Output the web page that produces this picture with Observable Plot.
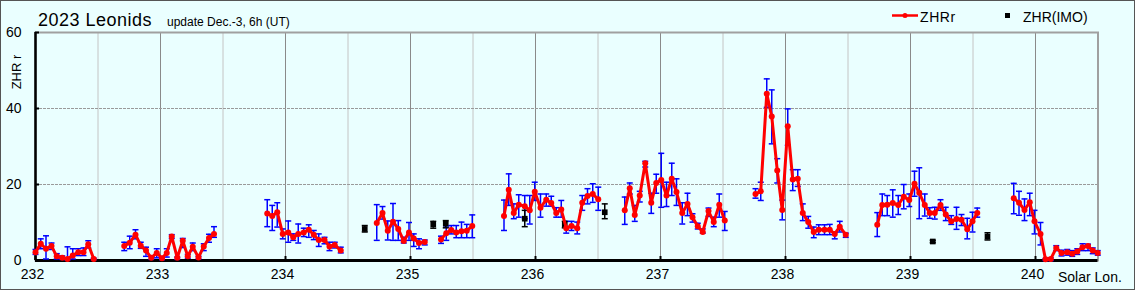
<!DOCTYPE html>
<html>
<head>
<meta charset="utf-8">
<script src="https://cdn.jsdelivr.net/npm/d3@7"></script>
<script src="https://cdn.jsdelivr.net/npm/@observablehq/plot@0.6"></script>
<style>
  html, body { margin: 0; padding: 0; background: #eaffff; }
  #wrap { position: relative; width: 1135px; height: 290px; overflow: hidden; background: #eaffff; }
  #chart { position: absolute; left: 0; top: 0; }
  #overlay { position: absolute; left: 0; top: 0; pointer-events: none; }
  #border { position: absolute; left: 0; top: 0; width: 1135px; height: 290px; box-sizing: border-box; border: 1px solid #555; pointer-events: none; }
  text { font-family: "Liberation Sans", Arial, sans-serif; }
</style>
</head>
<body>
<div id="wrap">
  <div id="chart"></div>
  <svg id="overlay" width="1135" height="290"></svg>
  <div id="border"></div>
</div>
<script>
// ---- Data: ZHRr (hourly), solar longitude, value, error low, error high ----
const zhrLon = [
  232.000, 232.042, 232.084, 232.128, 232.170, 232.214, 232.256, 232.298, 232.342, 232.384, 232.422, 232.466,
  232.710, 232.754, 232.800, 232.842, 232.884, 232.926, 232.970, 233.012, 233.050, 233.090, 233.134, 233.178, 233.218, 233.258, 233.304, 233.346, 233.388, 233.428,
  233.854, 233.894, 233.934, 233.978, 234.022, 234.062, 234.102, 234.146, 234.186, 234.226, 234.266, 234.312, 234.352, 234.394, 234.442,
  234.730, 234.776, 234.818, 234.860, 234.902, 234.946, 234.988, 235.026, 235.068, 235.114,
  235.244, 235.286, 235.326, 235.366, 235.408, 235.450, 235.494,
  235.748, 235.786, 235.826, 235.866, 235.914, 235.954, 235.994, 236.040, 236.086, 236.126, 236.166, 236.206, 236.246, 236.288, 236.334, 236.374, 236.416, 236.458, 236.502,
  236.714, 236.754, 236.794, 236.834, 236.878, 236.926, 236.966, 237.006, 237.048, 237.090, 237.128, 237.174, 237.216, 237.256, 237.298, 237.338, 237.384, 237.426, 237.470, 237.514,
  237.760, 237.802, 237.850, 237.890, 237.934, 237.974, 238.018, 238.058, 238.098, 238.138, 238.182, 238.226, 238.266, 238.312, 238.354, 238.394, 238.434, 238.482,
  238.734, 238.774, 238.814, 238.858, 238.902, 238.946, 238.990, 239.032, 239.070, 239.114, 239.154, 239.194, 239.240, 239.282, 239.326, 239.368, 239.408, 239.454, 239.496, 239.534,
  239.826, 239.868, 239.912, 239.954, 239.992, 240.040, 240.080, 240.122, 240.166, 240.208, 240.254, 240.294, 240.334, 240.376, 240.420, 240.458, 240.498
];
const zhrVal = [
  2.2, 4.4, 3.1, 3.8, 1.1, 0.7, 0.4, 1.3, 2.2, 2.2, 4.3, 0.4,
  3.8, 4.7, 6.8, 3.9, 2.6, 0.7, 2.0, 0.6, 2.0, 6.3, 0.7, 5.2, 1.1, 3.6, 0.8, 3.7, 5.9, 7.0,
  12.4, 11.7, 12.7, 7.0, 7.4, 6.1, 7.0, 7.4, 8.1, 6.8, 5.4, 5.4, 3.7, 4.1, 2.6,
  9.9, 12.5, 7.8, 10.2, 8.3, 5.1, 7.4, 5.8, 4.6, 4.9,
  5.5, 7.2, 8.0, 7.4, 7.7, 7.8, 9.1,
  11.7, 18.6, 12.5, 14.7, 14.3, 13.2, 18.1, 13.9, 16.0, 15.1, 12.5, 13.4, 8.5, 9.1, 8.5, 15.2, 17.0, 17.5, 16.1,
  13.2, 19.0, 12.0, 17.1, 25.6, 15.2, 20.4, 21.2, 17.1, 21.5, 18.0, 12.5, 14.9, 11.4, 9.0, 7.5, 13.0, 10.1, 14.7, 10.5,
  17.5, 18.2, 43.9, 37.9, 23.7, 13.3, 35.3, 21.3, 21.5, 12.5, 10.1, 7.5, 8.1, 8.1, 8.1, 7.0, 8.9, 6.8,
  9.4, 14.6, 14.7, 15.1, 14.6, 16.8, 15.9, 20.2, 17.8, 14.6, 12.5, 12.5, 14.6, 12.1, 10.3, 10.9, 10.7, 8.2, 10.3, 12.5,
  16.4, 15.2, 13.3, 15.3, 10.3, 7.0, 0.3, 0.4, 3.3, 2.0, 2.2, 1.8, 2.4, 3.5, 3.8, 2.6, 2.0
];
const zhrLo = [
  1.6, 3.1, 0.4, 2.9, 0.4, 0.3, 0.1, 0.4, 1.3, 1.3, 3.3, 0.2,
  2.6, 3.1, 5.7, 3.2, 1.1, 0.3, 0.7, 0.2, 0.9, 5.8, 0.3, 3.4, 0.6, 2.6, 0.4, 2.6, 4.8, 6.1,
  8.9, 7.9, 8.8, 5.7, 4.8, 5.3, 4.6, 6.3, 6.1, 5.5, 3.7, 4.4, 2.6, 3.3, 2.0,
  5.3, 10.9, 5.4, 5.3, 5.3, 4.6, 5.3, 3.7, 3.1, 4.1,
  4.5, 5.3, 7.0, 6.0, 6.0, 6.0, 6.0,
  7.9, 14.5, 11.0, 11.4, 11.0, 9.6, 15.8, 11.4, 14.3, 14.3, 11.4, 11.4, 7.2, 7.9, 7.0, 13.2, 14.9, 15.3, 13.2,
  9.5, 17.5, 10.3, 15.4, 24.6, 12.4, 17.7, 14.0, 14.2, 17.1, 14.5, 9.6, 11.8, 10.1, 8.3, 7.2, 11.6, 8.9, 11.4, 7.9,
  16.4, 15.8, 40.3, 30.7, 20.4, 10.7, 30.3, 18.4, 19.5, 10.5, 8.5, 6.0, 6.8, 6.8, 6.8, 5.7, 7.5, 6.1,
  6.3, 11.8, 11.8, 11.4, 12.1, 13.6, 14.2, 16.9, 11.0, 11.7, 11.1, 10.9, 13.2, 10.5, 9.5, 8.2, 9.2, 5.7, 7.5, 11.4,
  12.3, 11.9, 10.5, 11.8, 7.0, 4.1, 0.0, 0.0, 2.6, 1.2, 1.4, 1.1, 1.6, 2.6, 2.6, 1.8, 1.4
];
const zhrHi = [
  2.9, 5.7, 6.5, 4.6, 1.8, 1.2, 3.6, 3.1, 3.1, 3.3, 5.2, 0.6,
  4.8, 6.4, 8.1, 4.8, 3.5, 1.1, 3.1, 1.0, 3.1, 6.8, 0.9, 5.8, 1.6, 4.6, 1.1, 4.4, 6.9, 8.9,
  16.0, 14.5, 15.2, 8.3, 10.4, 7.0, 9.6, 8.5, 9.4, 7.9, 7.0, 6.1, 4.8, 4.8, 3.5,
  14.7, 14.2, 10.4, 15.0, 10.5, 6.1, 10.0, 7.0, 5.7, 5.4,
  6.4, 8.8, 9.2, 9.2, 10.1, 9.5, 12.0,
  15.9, 22.8, 14.9, 17.3, 17.1, 17.1, 20.6, 17.5, 17.5, 16.9, 13.9, 15.8, 10.3, 10.3, 10.1, 17.1, 18.9, 20.2, 19.3,
  16.7, 20.4, 14.5, 18.2, 26.1, 17.7, 22.7, 28.2, 20.6, 25.6, 21.5, 15.2, 17.7, 12.3, 9.8, 8.3, 13.8, 11.4, 17.5, 12.9,
  18.9, 20.6, 47.8, 44.9, 26.8, 15.9, 39.9, 23.9, 23.9, 14.9, 11.6, 8.8, 9.4, 9.4, 9.5, 7.4, 10.3, 7.2,
  12.6, 17.5, 17.1, 18.6, 17.1, 20.0, 17.5, 23.5, 24.4, 17.5, 13.9, 14.0, 16.0, 14.0, 11.8, 14.0, 12.1, 11.1, 12.7, 13.8,
  20.3, 18.2, 16.2, 17.7, 13.2, 10.0, 0.5, 0.7, 3.9, 2.7, 2.9, 2.6, 3.1, 4.4, 4.3, 3.3, 2.6
];

// ---- Data: ZHR (IMO) ----
const imoLon = [234.634, 235.182, 235.282, 235.914, 236.234, 236.554, 239.178, 239.616];
const imoVal = [8.3, 9.5, 9.7, 11.0, 9.5, 12.7, 5.0, 6.3];
const imoLo  = [7.5, 8.5, 8.6, 8.9, 8.6, 11.0, 4.7, 5.4];
const imoHi  = [9.2, 10.3, 10.5, 13.2, 10.3, 14.9, 5.3, 7.3];

// ---- Axis ticks ----
const xTicks = [232, 233, 234, 235, 236, 237, 238, 239, 240];
const xHalfTicks = [232.5, 233.5, 234.5, 235.5, 236.5, 237.5, 238.5, 239.5];
const yTicks = [0, 20, 40, 60];
const yGrid = [20, 40];

// ---- Build tables ----
const rows = zhrLon.map((x, i) => ({x, v: zhrVal[i], lo: zhrLo[i], hi: zhrHi[i]}));
let seg = 0;
rows.forEach((d, i) => { if (i > 0 && d.x - rows[i - 1].x > 0.1) seg++; d.seg = seg; });
const imo = imoLon.map((x, i) => ({x, v: imoVal[i], lo: imoLo[i], hi: imoHi[i]}));

const W = 1135, H = 290;
const mL = 35, mR = 37.5, mT = 32, mB = 30;
const plotW = W - mL - mR, plotH = H - mT - mB;

// horizontal cap symbol for error bars (half-width = r)
const capSymbol = {
  draw(ctx, size) { const w = Math.sqrt(size / Math.PI); ctx.moveTo(-w, 0); ctx.lineTo(w, 0); }
};

const chart = Plot.plot({
  width: W, height: H,
  marginLeft: mL, marginRight: mR, marginTop: mT, marginBottom: mB,
  style: {background: "transparent", fontFamily: "'Liberation Sans', Arial, sans-serif", overflow: "visible"},
  x: {domain: [232, 240.5], label: null},
  y: {domain: [0, 60], label: null},
  marks: [
    Plot.ruleX(xHalfTicks, {stroke: "#c4c4c4", strokeWidth: 1}),
    Plot.ruleX(xTicks.slice(1), {stroke: "#8a8a8a", strokeWidth: 1}),
    Plot.ruleY(yGrid, {stroke: "#9a9a9a", strokeWidth: 1, strokeDasharray: "3,1"}),
    Plot.frame({stroke: "#a0a0a0", strokeWidth: 2}),
    Plot.ruleY([0], {stroke: "black", strokeWidth: 3}),
    Plot.ruleX([232], {stroke: "black", strokeWidth: 2.5}),
    Plot.tickX(xTicks, {x: d => d, stroke: "black", strokeWidth: 2, insetTop: plotH - 4}),
    Plot.tickY(yTicks, {y: d => d, stroke: "black", strokeWidth: 2, insetRight: plotW - 4}),
    Plot.axisX(xTicks, {tickSize: 0, tickPadding: 9, fontSize: 14, dx: -3, tickFormat: d3.format("d")}),
    Plot.axisY(yTicks, {tickSize: 0, tickPadding: 14, fontSize: 14, tickFormat: d3.format("d")}),
    // ZHRr error bars
    Plot.ruleX(rows, {x: "x", y1: "lo", y2: "hi", stroke: "#0000ff", strokeWidth: 1.5}),
    Plot.dot(rows, {x: "x", y: "hi", symbol: capSymbol, r: 3, stroke: "#0000ff", strokeWidth: 1.5, fill: "none"}),
    Plot.dot(rows, {x: "x", y: "lo", symbol: capSymbol, r: 3, stroke: "#0000ff", strokeWidth: 1.5, fill: "none"}),
    // IMO
    Plot.ruleX(imo, {x: "x", y1: "lo", y2: "hi", stroke: "black", strokeWidth: 1.5}),
    Plot.dot(imo, {x: "x", y: "hi", symbol: capSymbol, r: 3, stroke: "black", strokeWidth: 1.5, fill: "none"}),
    Plot.dot(imo, {x: "x", y: "lo", symbol: capSymbol, r: 3, stroke: "black", strokeWidth: 1.5, fill: "none"}),
    Plot.dot(imo, {x: "x", y: "v", symbol: "square", r: 3.2, fill: "black", stroke: "none"}),
    // ZHRr line + points
    Plot.line(rows, {x: "x", y: "v", z: "seg", stroke: "#ff0000", strokeWidth: 3, strokeLinejoin: "round"}),
    Plot.dot(rows, {x: "x", y: "v", r: 3, fill: "#ff0000", stroke: "none"})
  ]
});
document.getElementById("chart").appendChild(chart);

// ---- Title, subtitle, legend, axis captions (overlay) ----
const ov = d3.select("#overlay");
ov.append("text").attr("x", 38).attr("y", 26).attr("font-size", 18).attr("letter-spacing", 0.5).text("2023 Leonids");
ov.append("text").attr("x", 167).attr("y", 26).attr("font-size", 12).text("update Dec.-3, 6h (UT)");
ov.append("text").attr("transform", "translate(21,72) rotate(-90)").attr("text-anchor", "middle").attr("font-size", 13).text("ZHR r");
ov.append("text").attr("x", 1058).attr("y", 282).attr("font-size", 14).text("Solar Lon.");
// legend
ov.append("line").attr("x1", 892).attr("x2", 918).attr("y1", 15.5).attr("y2", 15.5).attr("stroke", "#ff0000").attr("stroke-width", 2.5);
ov.append("circle").attr("cx", 905).attr("cy", 15.5).attr("r", 2.5).attr("fill", "#ff0000");
ov.append("text").attr("x", 920).attr("y", 21.5).attr("font-size", 14).attr("letter-spacing", 0.6).text("ZHRr");
ov.append("rect").attr("x", 1005).attr("y", 13).attr("width", 5).attr("height", 5).attr("fill", "black");
ov.append("text").attr("x", 1023).attr("y", 21.5).attr("font-size", 14).text("ZHR(IMO)");
</script>
</body>
</html>
